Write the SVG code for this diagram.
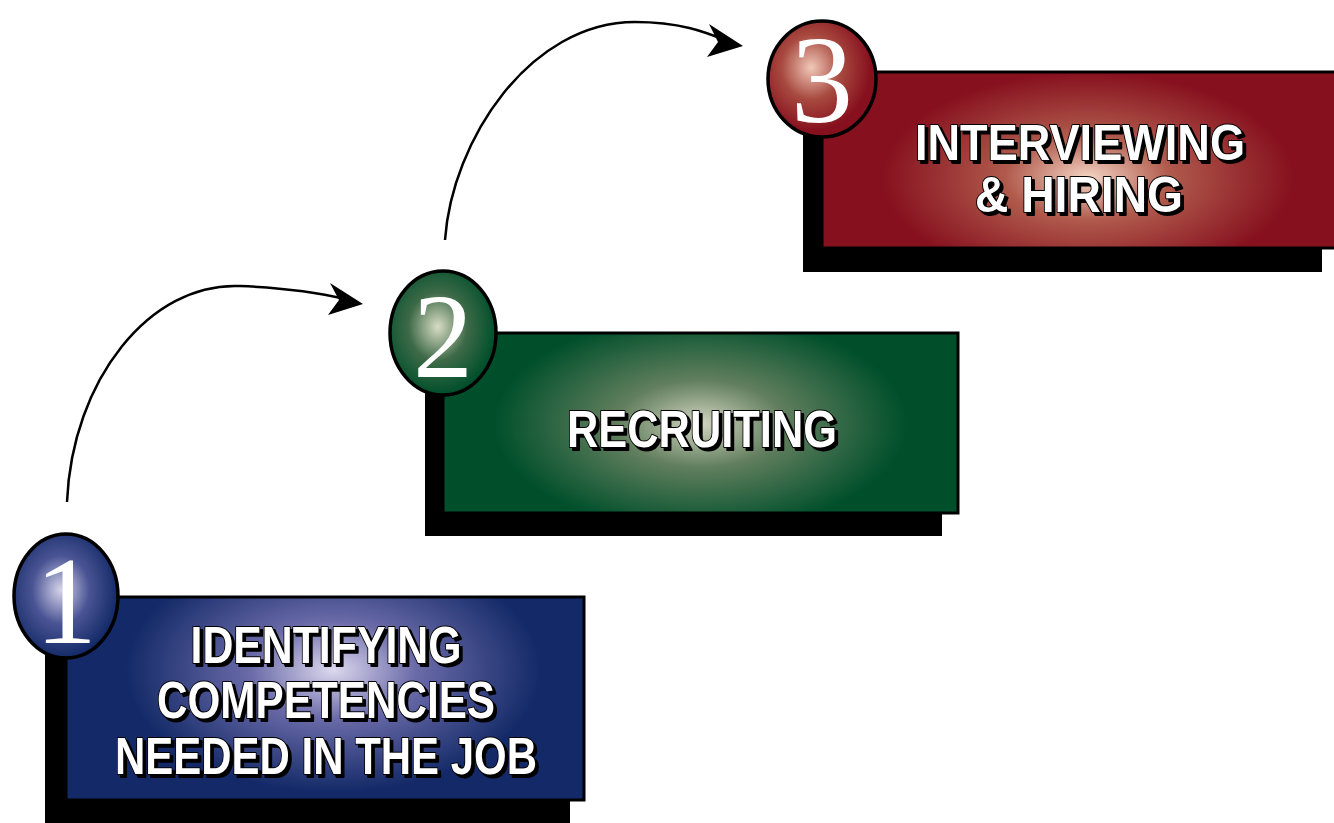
<svg xmlns="http://www.w3.org/2000/svg" width="1334" height="823" viewBox="0 0 1334 823">
<defs>
<radialGradient id="gBlue" cx="0.52" cy="0.3" r="0.5" gradientTransform="translate(0.1,0) scale(0.8,1.2)">
<stop offset="0" stop-color="#dcd8ee"/><stop offset="0.4" stop-color="#6a6aa8"/><stop offset="1" stop-color="#142a68"/></radialGradient>
<radialGradient id="gGreen" cx="0.5" cy="0.42" r="0.5" gradientTransform="translate(0.1,0) scale(0.8,1.2)">
<stop offset="0" stop-color="#d2d4c0"/><stop offset="0.4" stop-color="#627f5e"/><stop offset="1" stop-color="#004f2b"/></radialGradient>
<radialGradient id="gRed" cx="0.52" cy="0.5" r="0.5" gradientTransform="translate(0.1,0) scale(0.8,1.2)">
<stop offset="0" stop-color="#f4d4c4"/><stop offset="0.4" stop-color="#b05a4c"/><stop offset="1" stop-color="#86101e"/></radialGradient>
<radialGradient id="cBlue" cx="0.45" cy="0.45" r="0.55"><stop offset="0" stop-color="#d6d4ea"/><stop offset="0.5" stop-color="#4a5494"/><stop offset="1" stop-color="#142a68"/></radialGradient>
<radialGradient id="cGreen" cx="0.45" cy="0.45" r="0.55"><stop offset="0" stop-color="#d8dcc4"/><stop offset="0.5" stop-color="#3e6a48"/><stop offset="1" stop-color="#004f2b"/></radialGradient>
<radialGradient id="cRed" cx="0.4" cy="0.4" r="0.55"><stop offset="0" stop-color="#f0c8b8"/><stop offset="0.5" stop-color="#a84a40"/><stop offset="1" stop-color="#86101e"/></radialGradient>
<filter id="ts" x="-5%" y="-20%" width="115%" height="150%">
<feDropShadow dx="3" dy="3" stdDeviation="0" flood-color="#000" flood-opacity="1"/>
</filter>
</defs>
<style>
.sh{fill:#000}
.box{stroke:#000;stroke-width:3}
.circ{stroke:#000;stroke-width:3.5}
.dig{font-family:"Liberation Serif","Times New Roman",serif;fill:#fff;text-anchor:middle}
.lbl{font-family:"Liberation Sans",Arial,sans-serif;font-weight:bold;text-anchor:middle;fill:#fff;stroke:#000;stroke-width:2;paint-order:stroke;stroke-linejoin:round;filter:url(#ts)}
.con{fill:none;stroke:#000;stroke-width:2.5}
.head{fill:#000}
</style>
<rect width="1334" height="823" fill="#fff"/>
<g id="connectors">
<path class="con" d="M67,502 C72,380 150,282 240,286 C290,288 320,293 345,299"/>
<path class="head" d="M363,304 L330,283 L339,300 L328,315 Z"/>
<path class="con" d="M445,240 C452,140 530,22 635,22 C680,22 705,32 725,40"/>
<path class="head" d="M743,46 L709,24 L718,42 L707,57 Z"/>
</g>
<g id="node1">
<rect class="sh" x="45" y="620" width="525" height="210"/>
<rect class="box" x="66" y="597" width="518" height="203" fill="url(#gBlue)"/>
<ellipse class="circ" cx="66" cy="596" rx="52" ry="62" fill="url(#cBlue)"/>
<text class="dig" x="66" y="643" font-size="124">1</text>
<text class="lbl" x="326" y="663" font-size="52" textLength="271" lengthAdjust="spacingAndGlyphs">IDENTIFYING</text>
<text class="lbl" x="326" y="718" font-size="52" textLength="338" lengthAdjust="spacingAndGlyphs">COMPETENCIES</text>
<text class="lbl" x="326" y="774" font-size="52" textLength="422" lengthAdjust="spacingAndGlyphs">NEEDED IN THE JOB</text>
</g>
<g id="node2">
<rect class="sh" x="425" y="352" width="517" height="184"/>
<rect class="box" x="443" y="333" width="515" height="180" fill="url(#gGreen)"/>
<ellipse class="circ" cx="443" cy="333" rx="53" ry="62" fill="url(#cGreen)"/>
<text class="dig" x="443" y="377" font-size="120">2</text>
<text class="lbl" x="702" y="447" font-size="52" textLength="270" lengthAdjust="spacingAndGlyphs">RECRUITING</text>
</g>
<g id="node3">
<rect class="sh" x="803" y="95" width="519" height="177"/>
<rect class="box" x="822" y="72" width="515" height="176" fill="url(#gRed)"/>
<ellipse class="circ" cx="822" cy="79" rx="54" ry="58" fill="url(#cRed)"/>
<text class="dig" x="822" y="122" font-size="124">3</text>
<text class="lbl" x="1080" y="160" font-size="50" textLength="330" lengthAdjust="spacingAndGlyphs">INTERVIEWING</text>
<text class="lbl" x="1079" y="212" font-size="50" textLength="208" lengthAdjust="spacingAndGlyphs">&amp; HIRING</text>
</g>
</svg>
